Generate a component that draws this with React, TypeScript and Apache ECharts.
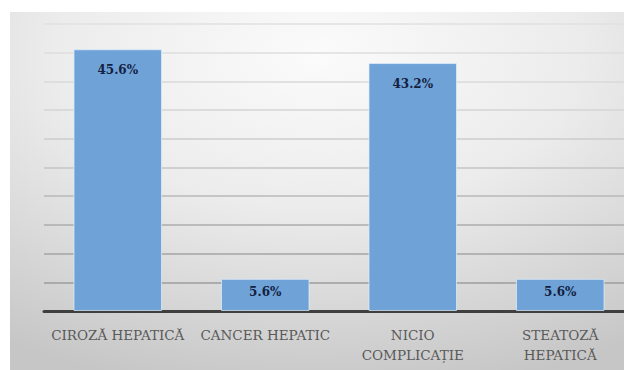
import React, { useEffect, useRef } from "react";
import * as echarts from "echarts";

// Categories and their shares (%)
const categories: string[] = [
  "CIROZĂ HEPATICĂ",
  "CANCER HEPATIC",
  "NICIO\nCOMPLICAȚIE",
  "STEATOZĂ\nHEPATICĂ",
];
const values: number[] = [45.6, 5.6, 43.2, 5.6];

// Value axis range (hidden labels, gridlines every 5)
const axisMin = 0;
const axisMax = 50;
const axisStep = 5;

// Gridline shades from the bottom line up to the top line
const gridShades: string[] = [
  "#8c8c8c",
  "#9c9c9c",
  "#a4a4a4",
  "#acacac",
  "#b8b8b8",
  "#c4c4c4",
  "#cccccc",
  "#d4d4d4",
  "#dadada",
  "#dedede",
  "#e0e0e0",
];

const serif = "DejaVu Serif";

export default function App() {
  const ref = useRef<HTMLDivElement>(null);

  useEffect(() => {
    if (!ref.current) return;
    const chart = echarts.init(ref.current, undefined, { renderer: "svg" });
    // short bars keep their label closer to the top edge
    const barData = values.map((v) => ({
      value: v,
      label: { distance: v > 10 ? 15 : 7 },
    }));
    chart.setOption({
      animation: false,
      backgroundColor: "#ffffff",
      textStyle: { fontFamily: serif },
      graphic: [
        {
          type: "rect",
          z: -10,
          silent: true,
          shape: { x: 10, y: 12, width: 614, height: 358 },
          style: {
            fill: new echarts.graphic.RadialGradient(0.5, 0.12, 0.95, [
              { offset: 0, color: "#fbfbfb" },
              { offset: 0.45, color: "#ececec" },
              { offset: 1, color: "#c6c6c6" },
            ]),
          },
        },
      ],
      grid: {
        left: 44,
        width: 590,
        top: 24,
        bottom: 59,
        outerBoundsMode: "none",
        containLabel: false,
      },
      xAxis: {
        type: "category",
        data: categories,
        axisTick: { show: false },
        axisLine: { show: true, lineStyle: { color: "#3f3f3f", width: 3 } },
        axisLabel: {
          interval: 0,
          margin: 14,
          color: "#595959",
          fontFamily: serif,
          fontSize: 13.5,
          lineHeight: 20,
        },
      },
      yAxis: {
        type: "value",
        min: axisMin,
        max: axisMax,
        interval: axisStep,
        axisLabel: { show: false },
        axisLine: { show: false },
        axisTick: { show: false },
        splitLine: {
          show: true,
          lineStyle: { color: gridShades, width: 1.5 },
        },
      },
      series: [
        {
          type: "bar",
          data: barData,
          barCategoryGap: "40%",
          itemStyle: {
            color: "#6fa3d8",
            borderColor: "rgba(225,238,250,0.7)",
            borderWidth: 1,
          },
          label: {
            show: true,
            position: "insideTop",
            formatter: (p: any) => `${Number(p.value).toFixed(1)}%`,
            color: "#14213f",
            fontFamily: serif,
            fontWeight: "bold",
            fontSize: 12,
          },
        },
      ],
    });
    return () => chart.dispose();
  }, []);

  return (
    <div
      ref={ref}
      style={{ position: "fixed", left: 0, top: 0, width: 624, height: 370 }}
    />
  );
}
